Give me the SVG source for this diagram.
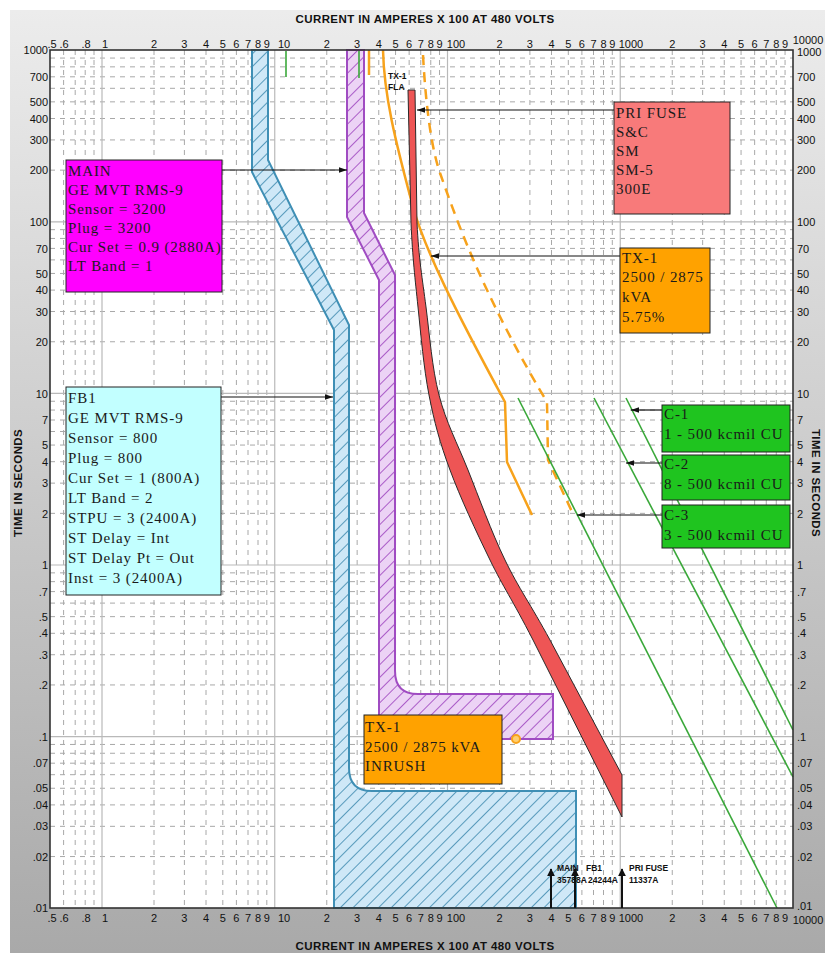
<svg xmlns="http://www.w3.org/2000/svg" width="825" height="953" viewBox="0 0 825 953">
<defs>
<linearGradient id="bg" x1="0" y1="0" x2="0" y2="1">
<stop offset="0" stop-color="#ececec"/>
<stop offset="1" stop-color="#a9a9a9"/>
</linearGradient>
<pattern id="hb" patternUnits="userSpaceOnUse" width="9" height="9" patternTransform="rotate(45)">
<rect width="9" height="9" fill="#cfe8f7"/>
<line x1="0" y1="0" x2="0" y2="9" stroke="#3b87ad" stroke-width="1.6"/>
</pattern>
<pattern id="hp" patternUnits="userSpaceOnUse" width="9" height="9" patternTransform="rotate(45)">
<rect width="9" height="9" fill="#ecd3f5"/>
<line x1="0" y1="0" x2="0" y2="9" stroke="#9b3fbd" stroke-width="1.6"/>
</pattern>
<marker id="ah" viewBox="0 0 10 10" refX="10" refY="5" markerWidth="7" markerHeight="7" orient="auto">
<path d="M0,1.5 L10,5 L0,8.5 z" fill="#111"/>
</marker>
<marker id="ahb" viewBox="0 0 10 10" refX="9" refY="5" markerWidth="4" markerHeight="4" orient="auto">
<path d="M0,0 L10,5 L0,10 z" fill="#111"/>
</marker>
<style>
.ax{font-family:"Liberation Sans",Arial,sans-serif;font-size:11px;fill:#111;}
.axm{text-anchor:middle;}
.axl{text-anchor:end;}
.ttl{font-family:"Liberation Sans",Arial,sans-serif;font-size:11.5px;font-weight:bold;fill:#111;letter-spacing:0.4px;}
.minor{stroke:#a8a8a8;stroke-width:1;stroke-dasharray:5 5;fill:none;}
.major{stroke:#b9b9b9;stroke-width:1.2;fill:none;}
.box{stroke:#222;stroke-width:1;}
.bt{font-family:"Liberation Serif","Times New Roman",serif;font-size:15px;fill:#1a1a1a;letter-spacing:0.9px;}
.con{stroke:#111;stroke-width:1.2;fill:none;marker-end:url(#ah);}
.barr{stroke:#111;stroke-width:2;fill:none;marker-end:url(#ahb);}
.sm{font-family:"Liberation Sans",Arial,sans-serif;font-size:8.5px;font-weight:bold;fill:#111;}
.org{stroke:#f7a21b;stroke-width:2.5;fill:none;stroke-linejoin:round;}
.grn{stroke:#3aa83a;stroke-width:1.6;fill:none;}
</style>
</defs>

<rect x="0" y="0" width="825" height="953" fill="#ffffff"/>
<rect x="10" y="10" width="815" height="943" fill="url(#bg)"/>
<rect x="50" y="50" width="743" height="858" fill="#ffffff"/>

<g id="grid">
<path class="minor" d="M63.6,50V908M75.2,50V908M85.2,50V908M94,50V908M154,50V908M184.4,50V908M206,50V908M222.8,50V908M236.4,50V908M248,50V908M258,50V908M266.8,50V908M326.75,50V908M357.15,50V908M378.75,50V908M395.55,50V908M409.15,50V908M420.75,50V908M430.75,50V908M439.55,50V908M499.5,50V908M529.9,50V908M551.5,50V908M568.3,50V908M581.9,50V908M593.5,50V908M603.5,50V908M612.3,50V908M672.25,50V908M702.65,50V908M724.25,50V908M741.05,50V908M754.65,50V908M766.25,50V908M776.25,50V908M785.05,50V908"/>
<path class="minor" d="M50,58.06H793M50,66.85H793M50,76.8H793M50,88.3H793M50,101.85H793M50,118.5H793M50,139.93H793M50,170.15H793M50,229.66H793M50,238.45H793M50,248.4H793M50,259.9H793M50,273.45H793M50,290.1H793M50,311.53H793M50,341.75H793M50,401.26H793M50,410.05H793M50,420H793M50,431.5H793M50,445.05H793M50,461.7H793M50,483.13H793M50,513.35H793M50,572.86H793M50,581.65H793M50,591.6H793M50,603.1H793M50,616.65H793M50,633.3H793M50,654.73H793M50,684.95H793M50,744.46H793M50,753.25H793M50,763.2H793M50,774.7H793M50,788.25H793M50,804.9H793M50,826.33H793M50,856.55H793"/>
<path class="major" d="M102,50V908M274.75,50V908M447.5,50V908M620.25,50V908M50,221.8H793M50,393.4H793M50,565H793M50,736.6H793"/>
</g>

<g id="curve-fb1">
<path d="M252,50 L252,172 L334,330 L334,908 L576,908 L576,791 L372,791 Q349,791 349,768 L349,325 L268,160 L268,50 Z" fill="url(#hb)" stroke="#3f8fb5" stroke-width="2"/>
</g>
<g id="curve-main">
<path d="M347,50 L347,217 L379,280 L379,739 L553,739 L553,694 L418,694 Q395,694 395,671 L395,275 L364,213 L364,50 Z" fill="url(#hp)" stroke="#a04cc2" stroke-width="2"/>
</g>

<g id="curve-tx1">
<path class="org" d="M383,50 C384,95 395,140 413,207 C425,250 455,310 505,402 L507,462 L532,515"/>
<path class="org" stroke-width="3" stroke-dasharray="10 7" d="M423,55 C426,110 432,150 440,173 C455,215 480,290 547,402 L548,460 L573,514"/>
<line class="org" x1="369" y1="50" x2="369" y2="75"/>
<circle cx="516" cy="739" r="4" fill="#ffcf70" stroke="#f7a21b" stroke-width="2"/>
</g>

<g id="curve-pri-fuse">
<path d="M408,90 L411,223 C412.7,259.2 415,278.3 418,307 C421,335.7 423.7,367.8 429,395 C434.3,422.2 439.8,442.5 450,470 C460.2,497.5 476.2,531.7 490,560 C503.8,588.3 511,597.2 533,640 L622,817 L622,775 L550,640 C530.5,604.2 518.7,588.3 505,560 C491.3,531.7 479,497.5 468,470 C457,442.5 446,422.2 439,395 C432,367.8 429.7,335.7 426,307 C422.3,278.3 418.8,259.2 417,223 L415,90 Z" fill="#ee5555" stroke="#2a2a2a" stroke-width="1"/>
</g>

<g id="curve-cables">
<line class="grn" x1="286" y1="51" x2="286" y2="77"/>
<line class="grn" x1="359" y1="51" x2="359" y2="78"/>
<line class="grn" x1="518" y1="398" x2="777" y2="908"/>
<line class="grn" x1="594" y1="398" x2="793" y2="777"/>
<line class="grn" x1="626" y1="398" x2="793" y2="730"/>
</g>

<rect x="50" y="50" width="743" height="858" fill="none" stroke="#333" stroke-width="1.6"/>

<g id="axes">
<text class="ttl" x="425" y="23" text-anchor="middle">CURRENT IN AMPERES X 100 AT 480 VOLTS</text>
<text class="ttl" x="425" y="950" text-anchor="middle">CURRENT IN AMPERES X 100 AT 480 VOLTS</text>
<text class="ttl" transform="translate(22,483) rotate(-90)" text-anchor="middle" font-size="10">TIME IN SECONDS</text>
<text class="ttl" transform="translate(812,483) rotate(90)" text-anchor="middle" font-size="10">TIME IN SECONDS</text>
<g class="ax axm">
<text x="52" y="48">.5</text><text x="64" y="48">.6</text><text x="86" y="48">.8</text><text x="105" y="48">1</text>
<text x="154" y="48">2</text><text x="184.4" y="48">3</text><text x="206" y="48">4</text><text x="222.8" y="48">5</text><text x="236.4" y="48">6</text><text x="248" y="48">7</text><text x="258" y="48">8</text><text x="266.8" y="48">9</text><text x="284" y="48">10</text>
<text x="326.75" y="48">2</text><text x="357.15" y="48">3</text><text x="378.75" y="48">4</text><text x="395.55" y="48">5</text><text x="409.15" y="48">6</text><text x="420.75" y="48">7</text><text x="430.75" y="48">8</text><text x="439.55" y="48">9</text><text x="456" y="48">100</text>
<text x="499.5" y="48">2</text><text x="529.9" y="48">3</text><text x="551.5" y="48">4</text><text x="568.3" y="48">5</text><text x="581.9" y="48">6</text><text x="593.5" y="48">7</text><text x="603.5" y="48">8</text><text x="612.3" y="48">9</text><text x="631" y="48">1000</text>
<text x="672.25" y="48">2</text><text x="702.65" y="48">3</text><text x="724.25" y="48">4</text><text x="741.05" y="48">5</text><text x="754.65" y="48">6</text><text x="766.25" y="48">7</text><text x="776.25" y="48">8</text><text x="785.05" y="48">9</text><text x="808" y="44">10000</text>
<text x="52" y="922">.5</text><text x="64" y="922">.6</text><text x="86" y="922">.8</text><text x="105" y="922">1</text>
<text x="154" y="922">2</text><text x="184.4" y="922">3</text><text x="206" y="922">4</text><text x="222.8" y="922">5</text><text x="236.4" y="922">6</text><text x="248" y="922">7</text><text x="258" y="922">8</text><text x="266.8" y="922">9</text><text x="284" y="922">10</text>
<text x="326.75" y="922">2</text><text x="357.15" y="922">3</text><text x="378.75" y="922">4</text><text x="395.55" y="922">5</text><text x="409.15" y="922">6</text><text x="420.75" y="922">7</text><text x="430.75" y="922">8</text><text x="439.55" y="922">9</text><text x="456" y="922">100</text>
<text x="499.5" y="922">2</text><text x="529.9" y="922">3</text><text x="551.5" y="922">4</text><text x="568.3" y="922">5</text><text x="581.9" y="922">6</text><text x="593.5" y="922">7</text><text x="603.5" y="922">8</text><text x="612.3" y="922">9</text><text x="631" y="922">1000</text>
<text x="672.25" y="922">2</text><text x="702.65" y="922">3</text><text x="724.25" y="922">4</text><text x="741.05" y="922">5</text><text x="754.65" y="922">6</text><text x="766.25" y="922">7</text><text x="776.25" y="922">8</text><text x="785.05" y="922">9</text><text x="808" y="924">10000</text>
</g>
<g class="ax axl">
<text x="48" y="54">1000</text><text x="48" y="81">700</text><text x="48" y="106">500</text><text x="48" y="122.5">400</text><text x="48" y="144">300</text><text x="48" y="174">200</text><text x="48" y="226">100</text><text x="48" y="252.5">70</text><text x="48" y="277.5">50</text><text x="48" y="294">40</text><text x="48" y="315.5">30</text><text x="48" y="346">20</text><text x="48" y="397.5">10</text><text x="48" y="424">7</text><text x="48" y="449">5</text><text x="48" y="466">4</text><text x="48" y="487">3</text><text x="48" y="517.5">2</text><text x="48" y="569">1</text><text x="48" y="595.5">.7</text><text x="48" y="620.5">.5</text><text x="48" y="637">.4</text><text x="48" y="659">.3</text><text x="48" y="689">.2</text><text x="48" y="740.5">.1</text><text x="48" y="767">.07</text><text x="48" y="792">.05</text><text x="48" y="809">.04</text><text x="48" y="830">.03</text><text x="48" y="860.5">.02</text><text x="48" y="912">.01</text>
</g>
<g class="ax">
<text x="797" y="56">1000</text><text x="797" y="81">700</text><text x="797" y="106">500</text><text x="797" y="122.5">400</text><text x="797" y="144">300</text><text x="797" y="174">200</text><text x="797" y="226">100</text><text x="797" y="252.5">70</text><text x="797" y="277.5">50</text><text x="797" y="294">40</text><text x="797" y="315.5">30</text><text x="797" y="346">20</text><text x="797" y="397.5">10</text><text x="797" y="424">7</text><text x="797" y="449">5</text><text x="797" y="466">4</text><text x="797" y="487">3</text><text x="797" y="517.5">2</text><text x="797" y="569">1</text><text x="797" y="595.5">.7</text><text x="797" y="620.5">.5</text><text x="797" y="637">.4</text><text x="797" y="659">.3</text><text x="797" y="689">.2</text><text x="797" y="740.5">.1</text><text x="797" y="767">.07</text><text x="797" y="792">.05</text><text x="797" y="809">.04</text><text x="797" y="830">.03</text><text x="797" y="860.5">.02</text><text x="797" y="910">.01</text>
</g>
</g>

<g id="connectors">
<line class="con" x1="222" y1="170" x2="347" y2="170"/>
<line class="con" x1="221" y1="397" x2="333" y2="397"/>
<line class="con" x1="614" y1="110" x2="417" y2="110"/>
<line class="con" x1="620" y1="256" x2="431" y2="256"/>
<line class="con" x1="662" y1="410" x2="631" y2="410"/>
<line class="con" x1="662" y1="463" x2="626" y2="463"/>
<line class="con" x1="662" y1="515" x2="577" y2="515"/>
<line class="barr" x1="551" y1="908" x2="551" y2="869"/>
<line class="barr" x1="575" y1="908" x2="575" y2="869"/>
<line class="barr" x1="622" y1="908" x2="622" y2="869"/>
</g>

<g id="label-tx1-fla">
<text class="sm" x="388" y="79" font-size="9">TX-1</text>
<text class="sm" x="388" y="90" font-size="9">FLA</text>
</g>
<g id="label-main-fault">
<text class="sm" x="557" y="871">MAIN</text>
<text class="sm" x="557" y="883">35788A</text>
</g>
<g id="label-fb1-fault">
<text class="sm" x="586" y="871">FB1</text>
<text class="sm" x="588" y="883">24244A</text>
</g>
<g id="label-pri-fault">
<text class="sm" x="629" y="871">PRI FUSE</text>
<text class="sm" x="629" y="883">11337A</text>
</g>

<g id="main">
<rect class="box" x="66" y="160" width="156" height="132" fill="#ff00ff"/>
<text class="bt" x="68" y="176">MAIN</text>
<text class="bt" x="68" y="195">GE MVT RMS-9</text>
<text class="bt" x="68" y="214">Sensor = 3200</text>
<text class="bt" x="68" y="233">Plug = 3200</text>
<text class="bt" x="68" y="252">Cur Set = 0.9 (2880A)</text>
<text class="bt" x="68" y="271">LT Band = 1</text>
</g>
<g id="fb1">
<rect class="box" x="66" y="387" width="155" height="208" fill="#c2ffff"/>
<text class="bt" x="68" y="403">FB1</text>
<text class="bt" x="68" y="423">GE MVT RMS-9</text>
<text class="bt" x="68" y="443">Sensor = 800</text>
<text class="bt" x="68" y="463">Plug = 800</text>
<text class="bt" x="68" y="483">Cur Set = 1 (800A)</text>
<text class="bt" x="68" y="503">LT Band = 2</text>
<text class="bt" x="68" y="523">STPU = 3 (2400A)</text>
<text class="bt" x="68" y="543">ST Delay = Int</text>
<text class="bt" x="68" y="563">ST Delay Pt = Out</text>
<text class="bt" x="68" y="583">Inst = 3 (2400A)</text>
</g>
<g id="pri-fuse">
<rect class="box" x="614" y="102" width="116" height="112" fill="#f87a7a"/>
<text class="bt" x="616" y="118">PRI FUSE</text>
<text class="bt" x="616" y="137">S&amp;C</text>
<text class="bt" x="616" y="156">SM</text>
<text class="bt" x="616" y="175">SM-5</text>
<text class="bt" x="616" y="194">300E</text>
</g>
<g id="tx1">
<rect class="box" x="620" y="248" width="90" height="85" fill="#ffa200"/>
<text class="bt" x="622" y="263">TX-1</text>
<text class="bt" x="622" y="282">2500 / 2875</text>
<text class="bt" x="622" y="302">kVA</text>
<text class="bt" x="622" y="322">5.75%</text>
</g>
<g id="c1">
<rect class="box" x="662" y="405" width="128" height="47" fill="#1fc41f"/>
<text class="bt" x="664" y="419">C-1</text>
<text class="bt" x="664" y="439">1 - 500 kcmil CU</text>
</g>
<g id="c2">
<rect class="box" x="662" y="455" width="128" height="45" fill="#1fc41f"/>
<text class="bt" x="664" y="469">C-2</text>
<text class="bt" x="664" y="489">8 - 500 kcmil CU</text>
</g>
<g id="c3">
<rect class="box" x="662" y="505" width="128" height="43" fill="#1fc41f"/>
<text class="bt" x="664" y="520">C-3</text>
<text class="bt" x="664" y="540">3 - 500 kcmil CU</text>
</g>
<g id="tx1-inrush">
<rect class="box" x="364" y="715" width="138" height="69" fill="#ffa200"/>
<text class="bt" x="365" y="732">TX-1</text>
<text class="bt" x="365" y="752">2500 / 2875 kVA</text>
<text class="bt" x="365" y="771">INRUSH</text>
</g>
</svg>
